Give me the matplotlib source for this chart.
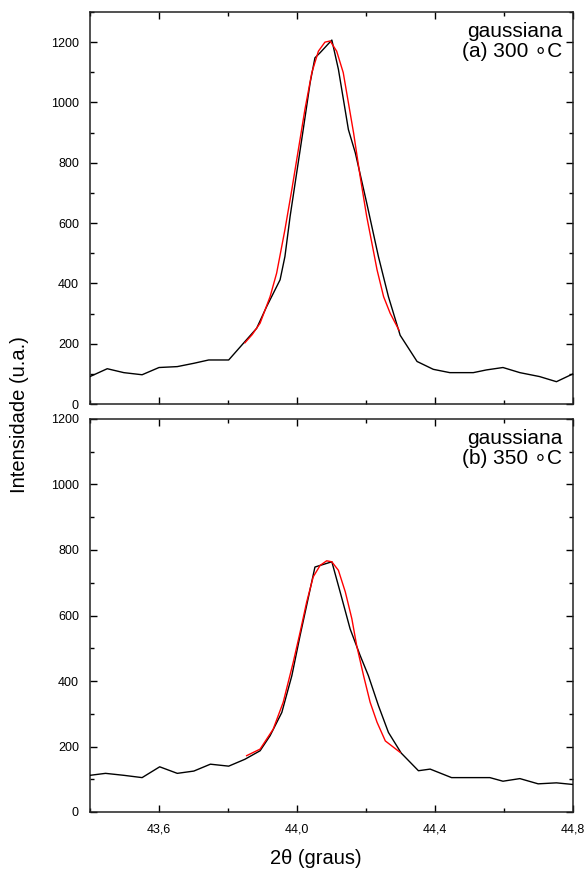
import matplotlib
matplotlib.use("Agg")
import matplotlib.pyplot as plt
from matplotlib.ticker import MultipleLocator, FuncFormatter

plt.rcParams['font.family'] = ['Liberation Sans', 'DejaVu Sans']

# Panel (a): 300 °C — measured profile and gaussian fit
x_a = [43.400, 43.450, 43.498, 43.551, 43.600, 43.653, 43.701, 43.744, 43.802,
       43.849, 43.883, 43.912, 43.951, 43.965, 43.980, 43.999, 44.018, 44.038,
       44.052, 44.067, 44.101, 44.120, 44.149, 44.169, 44.202, 44.236, 44.265,
       44.299, 44.348, 44.395, 44.443, 44.511, 44.549, 44.597, 44.646, 44.703,
       44.752, 44.800]
y_a = [91, 117, 104, 97, 121, 124, 135, 146, 146,
       207, 251, 323, 412, 489, 622, 766, 910, 1065,
       1148, 1165, 1207, 1110, 910, 833, 667, 489, 356,
       228, 141, 115, 104, 104, 113, 121, 104, 91,
       74, 100]
fit_x_a = [43.849, 43.870, 43.893, 43.922, 43.941, 43.965, 43.985, 44.004,
           44.023, 44.043, 44.062, 44.081, 44.096, 44.115, 44.134, 44.149,
           44.164, 44.183, 44.202, 44.217, 44.232, 44.251, 44.270, 44.296]
fit_y_a = [203, 230, 268, 356, 434, 578, 711, 844,
           977, 1099, 1170, 1200, 1204, 1170, 1099, 999,
           899, 755, 622, 534, 445, 356, 301, 244]

# Panel (b): 350 °C — measured profile and gaussian fit
x_b = [43.400, 43.445, 43.498, 43.551, 43.602, 43.653, 43.701, 43.749, 43.802,
       43.849, 43.893, 43.922, 43.956, 43.985, 44.009, 44.028, 44.052, 44.101,
       44.125, 44.154, 44.183, 44.207, 44.236, 44.265, 44.302, 44.352, 44.386,
       44.448, 44.559, 44.597, 44.646, 44.699, 44.752, 44.800]
y_b = [112, 118, 112, 105, 138, 118, 125, 146, 140,
       161, 187, 233, 304, 416, 539, 631, 748, 764,
       672, 559, 478, 416, 325, 243, 180, 126, 131,
       105, 105, 94, 102, 86, 89, 84]
fit_x_b = [43.854, 43.893, 43.931, 43.960, 43.989, 44.009, 44.028, 44.047,
           44.067, 44.086, 44.101, 44.120, 44.140, 44.159, 44.173, 44.193,
           44.212, 44.232, 44.256, 44.299]
fit_y_b = [172, 192, 253, 335, 457, 549, 641, 718,
           753, 767, 764, 738, 672, 590, 508, 416,
           335, 274, 217, 182]

labels = [["gaussiana", "(a) 300 \u2218C"], ["gaussiana", "(b) 350 \u2218C"]]
x_major = [43.6, 44.0, 44.4, 44.8]

W, H = 587, 874
fig = plt.figure(figsize=(W / 100, H / 100), dpi=100)
ax_a = fig.add_axes([90 / W, 1 - 404 / H, 483 / W, 392 / H])
ax_b = fig.add_axes([90 / W, 1 - 812 / H, 483 / W, 393 / H])

comma = FuncFormatter(lambda v, p: f"{v:.1f}".replace(".", ","))

panels = [(ax_a, x_a, y_a, fit_x_a, fit_y_a, 1300, labels[0]),
          (ax_b, x_b, y_b, fit_x_b, fit_y_b, 1200, labels[1])]

for ax, xs, ys, fx, fy, ytop, lab in panels:
    ax.plot(xs, ys, color="black", lw=1.0, zorder=3)
    ax.plot(fx, fy, color="red", lw=1.0, zorder=4)
    ax.set_xlim(43.4, 44.8)
    ax.set_ylim(0, ytop)
    ax.set_xticks(x_major)
    ax.xaxis.set_minor_locator(MultipleLocator(0.2))
    ax.yaxis.set_major_locator(MultipleLocator(200))
    ax.yaxis.set_minor_locator(MultipleLocator(100))
    ax.xaxis.set_major_formatter(comma)
    ax.tick_params(which="both", direction="in", top=True, right=True,
                   width=1.0, labelsize=9, colors="black")
    ax.tick_params(which="major", length=5, pad=8)
    ax.tick_params(which="minor", length=3)
    for s in ax.spines.values():
        s.set_linewidth(1.1)
        s.set_color("#222222")
    ax.text(0.978, 0.975, lab[0] + "\n" + lab[1], transform=ax.transAxes,
            ha="right", va="top", fontsize=15, linespacing=1.1,
            family=['Liberation Sans', 'DejaVu Sans'])

ax_a.tick_params(labelbottom=False)
ax_a.set_yticks(range(0, 1201, 200))
ax_a.set_yticks(range(0, 1301, 100), minor=True)

fig.text(20 / W, 1 - 415 / H, "Intensidade (u.a.)", rotation=90,
         ha="center", va="center", fontsize=14.5)
fig.text(316 / W, 1 - 858 / H, "2\u03b8 (graus)", ha="center", va="center",
         fontsize=14.5)

fig.savefig("out.png", dpi=100)
